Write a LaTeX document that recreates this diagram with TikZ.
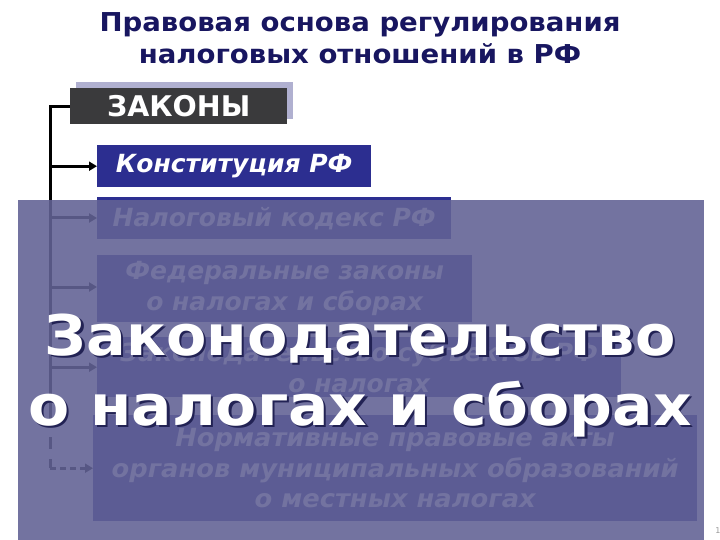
\documentclass[tikz,border=0pt]{standalone}
\usepackage{fontspec}
\usepackage{graphicx}
\setmainfont{DejaVu Sans}
\usetikzlibrary{arrows.meta}
\definecolor{titleblue}{RGB}{24,22,96}
\definecolor{zakgray}{RGB}{58,58,60}
\definecolor{shadelav}{RGB}{176,176,208}
\definecolor{boxblue}{RGB}{44,46,144}
\definecolor{ovlcol}{RGB}{98,98,149}
\definecolor{bigshadow}{RGB}{34,34,84}
\newcommand{\wx}[2]{\scalebox{#1}[1]{#2}}
\tikzset{
  lawbox/.style={fill=boxblue, inner sep=0pt, text=white, align=center,
    font=\bfseries\itshape\fontsize{25}{30.5}\selectfont, anchor=north west},
  conn/.style={line width=3pt, -{Triangle[length=8pt,width=9pt]}},
  trunk/.style={line width=3pt},
  bigtext/.style={font=\bfseries\fontsize{56}{70}\selectfont, align=center, anchor=base, inner sep=0pt}
}
\begin{document}
\begin{tikzpicture}[x=1pt,y=-1pt]
\useasboundingbox (0,0) rectangle (720,540);
\fill[white] (0,0) rectangle (720,540);
% title
\node[font=\bfseries\fontsize{26}{32}\selectfont, text=titleblue, align=center, anchor=base, inner sep=0pt] (title) at (360,64)
  {\wx{1.06}{Правовая основа регулирования}\\\wx{1.06}{налоговых отношений в РФ}};
% ZAKONY
\fill[shadelav] (76,82) rectangle (293,119);
\node[fill=zakgray, text=white, inner sep=0pt, minimum width=217pt, minimum height=36pt, anchor=north west,
  font=\bfseries\fontsize{28.5}{30}\selectfont] (zak) at (70,88) {ЗАКОНЫ};
% boxes
\node[lawbox, minimum width=274pt, minimum height=42pt] (konst) at (97,145) {Конституция РФ};
\node[lawbox, minimum width=354pt, minimum height=42pt] (nk) at (97,197) {Налоговый кодекс РФ};
\node[lawbox, minimum width=375pt, minimum height=67pt] (fz) at (97,255) {Федеральные законы\\о налогах и сборах};
\node[lawbox, minimum width=524pt, minimum height=60pt] (subj) at (97,337) {Законодательство субъектов РФ\\о налогах};
\node[lawbox, minimum width=604pt, minimum height=106pt] (mun) at (93,415) {\wx{1.03}{Нормативные правовые акты}\\\wx{1.03}{органов муниципальных образований}\\\wx{1.03}{о местных налогах}};
% connectors
\coordinate (tr) at (50,0);
\coordinate (solidend) at (50,415);
\draw[trunk] (zak.west) -- (tr |- zak.west) -- (solidend);
\draw[trunk, dash pattern=on 12pt off 10pt] (solidend) -- (tr |- mun.west);
\draw[conn] (tr |- konst.west) -- (konst.west);
\draw[conn] (50,218) -- (nk.west |- 0,218);
\draw[conn] (50,287) -- (fz.west |- 0,287);
\draw[conn] (tr |- subj.west) -- (subj.west);
\draw[conn, dash pattern=on 6pt off 4pt] (tr |- mun.west) -- (mun.west);
% overlay
\fill[ovlcol, opacity=0.89] (18,200) rectangle (704,540);
% big text
\node[bigtext, text=bigshadow] (bigs) at (362.5,427.5) {\wx{1.05}{Законодательство}\\\wx{1.07}{о налогах и сборах}};
\node[bigtext, text=white] (big) at (360,425) {\wx{1.05}{Законодательство}\\\wx{1.07}{о налогах и сборах}};
\node[font=\fontsize{8}{8}\selectfont, text=black!40, inner sep=0pt] (pg) at (718,531) {1};
\end{tikzpicture}
\end{document}
